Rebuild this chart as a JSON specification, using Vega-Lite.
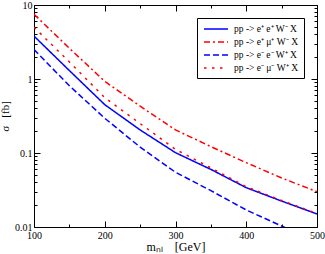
{
  "$schema": "https://vega.github.io/schema/vega-lite/v6.json",
  "autosize": "none",
  "padding": {"left": 34, "top": 5, "right": 8, "bottom": 27},
  "width": 283,
  "height": 222,
  "config": {
    "font": "Liberation Serif",
    "view": {"stroke": "black", "strokeWidth": 1},
    "axis": {"grid": false, "domain": false, "tickColor": "black", "labelColor": "black", "titleColor": "black", "labelFont": "Liberation Serif", "titleFont": "Liberation Serif", "labelFontSize": 10, "titleFontSize": 12, "titleFontWeight": "normal"},
    "legend": {"labelFont": "Liberation Serif"}
  },
  "data": {
    "values": [
      {"m": 100, "sigma": 3.8, "s": "pp -> e⁺ e⁺ W⁻ X"},
      {"m": 150, "sigma": 1.3, "s": "pp -> e⁺ e⁺ W⁻ X"},
      {"m": 200, "sigma": 0.45, "s": "pp -> e⁺ e⁺ W⁻ X"},
      {"m": 250, "sigma": 0.205, "s": "pp -> e⁺ e⁺ W⁻ X"},
      {"m": 300, "sigma": 0.101, "s": "pp -> e⁺ e⁺ W⁻ X"},
      {"m": 350, "sigma": 0.06, "s": "pp -> e⁺ e⁺ W⁻ X"},
      {"m": 400, "sigma": 0.034, "s": "pp -> e⁺ e⁺ W⁻ X"},
      {"m": 450, "sigma": 0.0224, "s": "pp -> e⁺ e⁺ W⁻ X"},
      {"m": 500, "sigma": 0.015, "s": "pp -> e⁺ e⁺ W⁻ X"},
      {"m": 100, "sigma": 7.5, "s": "pp -> e⁺ μ⁺ W⁻ X"},
      {"m": 150, "sigma": 2.6, "s": "pp -> e⁺ μ⁺ W⁻ X"},
      {"m": 200, "sigma": 0.93, "s": "pp -> e⁺ μ⁺ W⁻ X"},
      {"m": 250, "sigma": 0.43, "s": "pp -> e⁺ μ⁺ W⁻ X"},
      {"m": 300, "sigma": 0.205, "s": "pp -> e⁺ μ⁺ W⁻ X"},
      {"m": 350, "sigma": 0.122, "s": "pp -> e⁺ μ⁺ W⁻ X"},
      {"m": 400, "sigma": 0.074, "s": "pp -> e⁺ μ⁺ W⁻ X"},
      {"m": 450, "sigma": 0.046, "s": "pp -> e⁺ μ⁺ W⁻ X"},
      {"m": 500, "sigma": 0.03, "s": "pp -> e⁺ μ⁺ W⁻ X"},
      {"m": 100, "sigma": 2.5, "s": "pp -> e⁻ e⁻ W⁺ X"},
      {"m": 150, "sigma": 0.81, "s": "pp -> e⁻ e⁻ W⁺ X"},
      {"m": 200, "sigma": 0.295, "s": "pp -> e⁻ e⁻ W⁺ X"},
      {"m": 250, "sigma": 0.12, "s": "pp -> e⁻ e⁻ W⁺ X"},
      {"m": 300, "sigma": 0.055, "s": "pp -> e⁻ e⁻ W⁺ X"},
      {"m": 350, "sigma": 0.031, "s": "pp -> e⁻ e⁻ W⁺ X"},
      {"m": 400, "sigma": 0.017, "s": "pp -> e⁻ e⁻ W⁺ X"},
      {"m": 450, "sigma": 0.0103, "s": "pp -> e⁻ e⁻ W⁺ X"},
      {"m": 500, "sigma": 0.0063, "s": "pp -> e⁻ e⁻ W⁺ X"},
      {"m": 100, "sigma": 5.0, "s": "pp -> e⁻ μ⁻ W⁺ X"},
      {"m": 150, "sigma": 1.7, "s": "pp -> e⁻ μ⁻ W⁺ X"},
      {"m": 200, "sigma": 0.56, "s": "pp -> e⁻ μ⁻ W⁺ X"},
      {"m": 250, "sigma": 0.25, "s": "pp -> e⁻ μ⁻ W⁺ X"},
      {"m": 300, "sigma": 0.112, "s": "pp -> e⁻ μ⁻ W⁺ X"},
      {"m": 350, "sigma": 0.063, "s": "pp -> e⁻ μ⁻ W⁺ X"},
      {"m": 400, "sigma": 0.035, "s": "pp -> e⁻ μ⁻ W⁺ X"},
      {"m": 450, "sigma": 0.0228, "s": "pp -> e⁻ μ⁻ W⁺ X"},
      {"m": 500, "sigma": 0.0152, "s": "pp -> e⁻ μ⁻ W⁺ X"}
    ]
  },
  "layer": [
    {
      "mark": {"type": "line", "clip": true},
      "encoding": {
        "x": {"field": "m", "type": "quantitative", "scale": {"domain": [100, 500], "nice": false, "zero": false},
          "axis": {"orient": "bottom", "values": [100, 200, 300, 400, 500], "tickSize": -6, "labelPadding": 9, "title": "mₙₗ\u00a0\u00a0\u00a0\u00a0[GeV]", "titlePadding": 1, "labelFlush": false}},
        "y": {"field": "sigma", "type": "quantitative", "scale": {"type": "log", "domain": [0.01, 10], "nice": false},
          "axis": {"orient": "left", "values": [0.01, 0.1, 1, 10], "tickSize": -6, "labelPadding": 8, "title": "σ\u00a0\u00a0\u00a0[fb]", "titleFontSize": 11, "titlePadding": 4, "labelFlush": false, "format": "~g"}},
        "color": {"field": "s", "type": "nominal",
          "scale": {"domain": ["pp -> e⁺ e⁺ W⁻ X", "pp -> e⁺ μ⁺ W⁻ X", "pp -> e⁻ e⁻ W⁺ X", "pp -> e⁻ μ⁻ W⁺ X"], "range": ["#0000ff", "#ff0000", "#0000ff", "#ff0000"]},
          "legend": {"title": null, "orient": "none", "legendX": 163, "legendY": 13, "symbolType": "M-2.4,0H2.4", "symbolSize": 100, "symbolOffset": 8, "labelFontSize": 9.5, "labelOffset": 12, "strokeColor": "black", "fillColor": "white", "padding": 5, "rowPadding": 2, "labelColor": "black"}},
        "strokeDash": {"field": "s", "type": "nominal",
          "scale": {"domain": ["pp -> e⁺ e⁺ W⁻ X", "pp -> e⁺ μ⁺ W⁻ X", "pp -> e⁻ e⁻ W⁺ X", "pp -> e⁻ μ⁻ W⁺ X"], "range": [[1, 0], [6, 3, 2, 3], [6, 3], [2.5, 5.5]]},
          "legend": {"title": null}},
        "strokeWidth": {"field": "s", "type": "nominal",
          "scale": {"domain": ["pp -> e⁺ e⁺ W⁻ X", "pp -> e⁺ μ⁺ W⁻ X", "pp -> e⁻ e⁻ W⁺ X", "pp -> e⁻ μ⁻ W⁺ X"], "range": [1.5, 1.5, 1.5, 3]},
          "legend": {"title": null}}
      }
    },
    {
      "mark": {"type": "line", "strokeOpacity": 0},
      "encoding": {
        "x": {"field": "m", "type": "quantitative", "axis": {"orient": "bottom", "values": [150, 250, 350, 450], "tickSize": -3, "labels": false, "title": null}},
        "y": {"field": "sigma", "type": "quantitative", "axis": {"orient": "left", "values": [0.02, 0.03, 0.04, 0.05, 0.06, 0.07, 0.08, 0.09, 0.2, 0.3, 0.4, 0.5, 0.6, 0.7, 0.8, 0.9, 2, 3, 4, 5, 6, 7, 8, 9], "tickSize": -3, "labels": false, "title": null}},
        "detail": {"field": "s"}
      }
    },
    {
      "mark": {"type": "line", "strokeOpacity": 0},
      "encoding": {
        "x": {"field": "m", "type": "quantitative", "axis": {"orient": "top", "values": [100, 200, 300, 400, 500], "tickSize": -6, "labels": false, "title": null}},
        "y": {"field": "sigma", "type": "quantitative", "axis": {"orient": "right", "values": [0.01, 0.1, 1, 10], "tickSize": -6, "labels": false, "title": null}},
        "detail": {"field": "s"}
      }
    },
    {
      "mark": {"type": "line", "strokeOpacity": 0},
      "encoding": {
        "x": {"field": "m", "type": "quantitative", "axis": {"orient": "top", "values": [150, 250, 350, 450], "tickSize": -3, "labels": false, "title": null}},
        "y": {"field": "sigma", "type": "quantitative", "axis": {"orient": "right", "values": [0.02, 0.03, 0.04, 0.05, 0.06, 0.07, 0.08, 0.09, 0.2, 0.3, 0.4, 0.5, 0.6, 0.7, 0.8, 0.9, 2, 3, 4, 5, 6, 7, 8, 9], "tickSize": -3, "labels": false, "title": null}},
        "detail": {"field": "s"}
      }
    }
  ],
  "resolve": {"axis": {"x": "independent", "y": "independent"}}
}
